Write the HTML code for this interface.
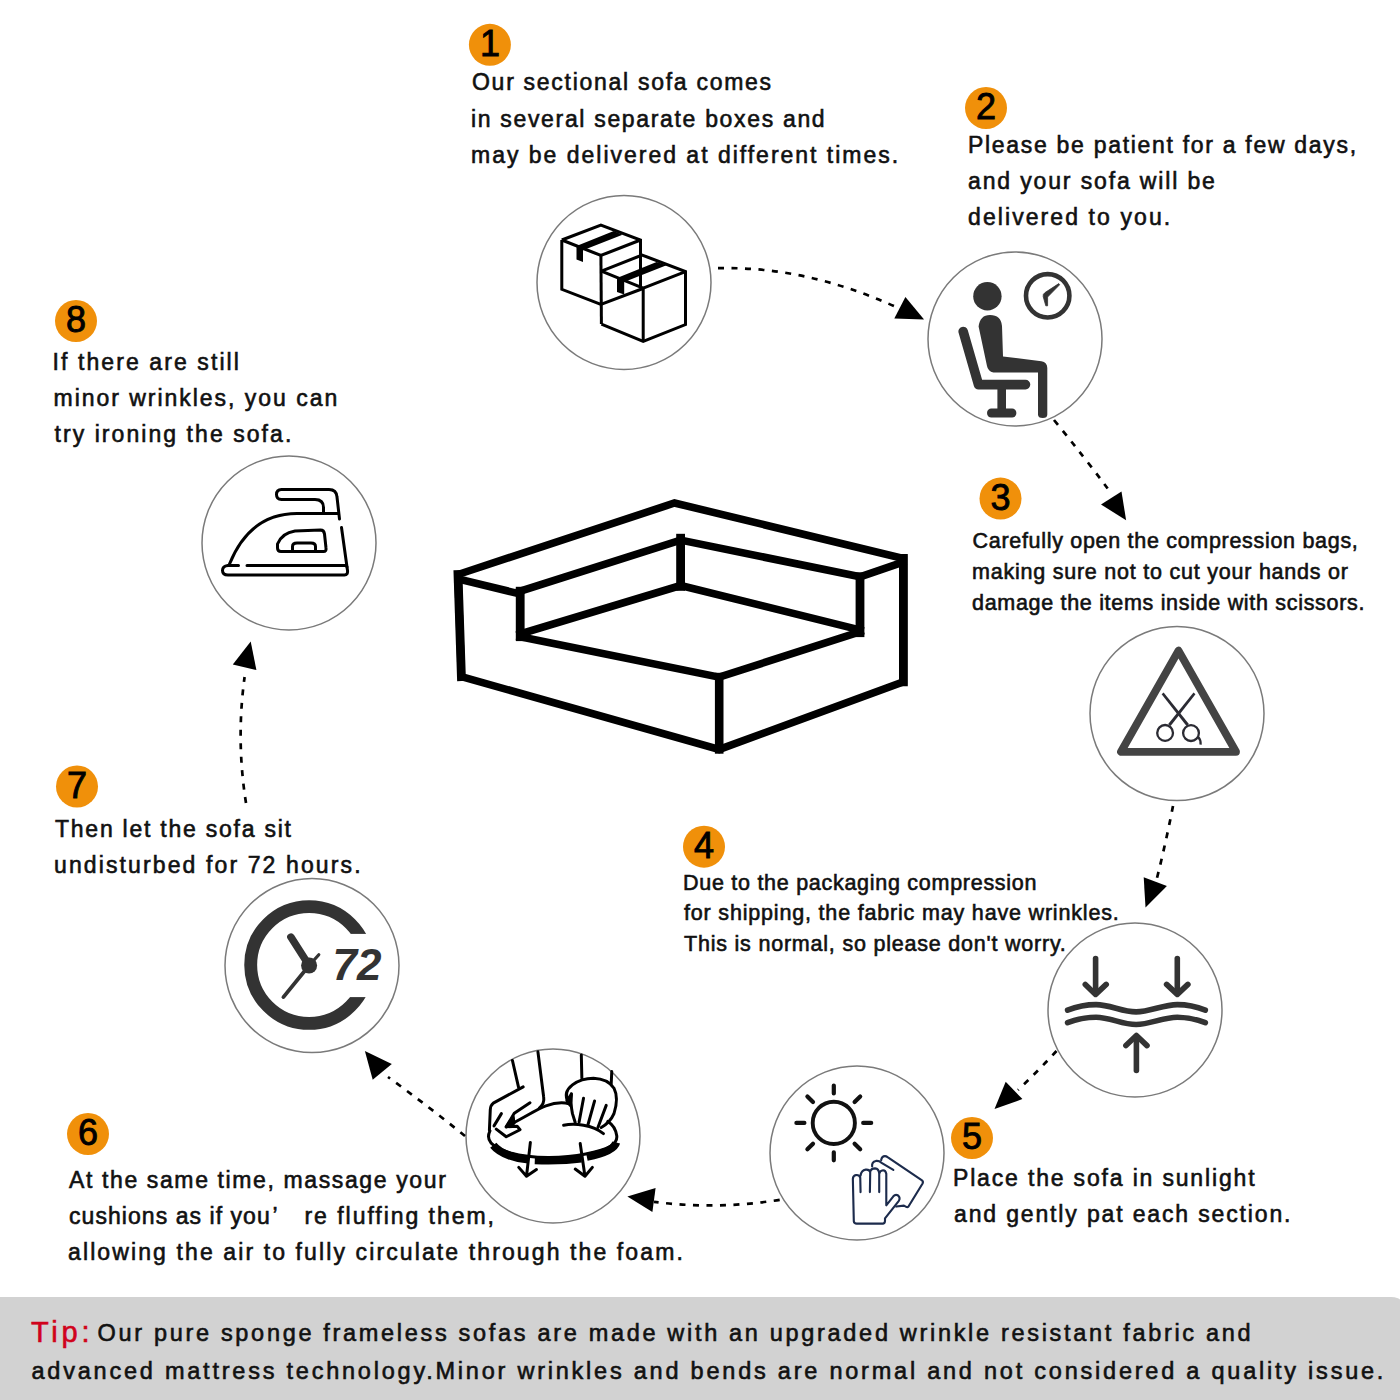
<!DOCTYPE html>
<html><head><meta charset="utf-8"><style>
html,body{margin:0;padding:0;background:#fff;}
body{width:1400px;height:1400px;position:relative;overflow:hidden;font-family:"Liberation Sans",sans-serif;color:#111;}
.t{position:absolute;white-space:nowrap;line-height:1;-webkit-text-stroke:0.6px currentColor;}
.n{position:absolute;width:40px;height:40px;line-height:40px;text-align:center;font-size:36px;color:#000;-webkit-text-stroke:0.9px #000;}
svg{position:absolute;left:0;top:0;}
.band{position:absolute;left:0;top:1296.6px;width:1409px;height:110px;background:#d2d2d2;border-top-right-radius:18px;}
</style></head><body>
<div class="band"></div>
<svg width="1400" height="1400" viewBox="0 0 1400 1400">
<circle cx="624" cy="282.5" r="87" fill="none" stroke="#7a7a7a" stroke-width="1.5"/>
<circle cx="1015" cy="339" r="87" fill="none" stroke="#7a7a7a" stroke-width="1.5"/>
<circle cx="1177" cy="713.6" r="87" fill="none" stroke="#7a7a7a" stroke-width="1.5"/>
<circle cx="1135" cy="1010" r="87" fill="none" stroke="#7a7a7a" stroke-width="1.5"/>
<circle cx="857" cy="1153" r="87" fill="none" stroke="#7a7a7a" stroke-width="1.5"/>
<circle cx="553" cy="1136" r="87" fill="none" stroke="#7a7a7a" stroke-width="1.5"/>
<circle cx="312" cy="965.6" r="87" fill="none" stroke="#7a7a7a" stroke-width="1.5"/>
<circle cx="289" cy="543" r="87" fill="none" stroke="#7a7a7a" stroke-width="1.5"/>
<circle cx="489.9" cy="44.8" r="21" fill="#f0900a"/>
<circle cx="986" cy="108" r="21" fill="#f0900a"/>
<circle cx="1000.5" cy="498.6" r="21" fill="#f0900a"/>
<circle cx="704" cy="846.7" r="21" fill="#f0900a"/>
<circle cx="972" cy="1138" r="21" fill="#f0900a"/>
<circle cx="88" cy="1134" r="21" fill="#f0900a"/>
<circle cx="77" cy="786.5" r="21" fill="#f0900a"/>
<circle cx="76" cy="321" r="21" fill="#f0900a"/>
<g fill="none" stroke="#000" stroke-width="2.7" stroke-dasharray="6 7.5">
<path d="M718,268.2 Q806,266 896,307"/>
<path d="M1054,420 Q1085,458 1108,489"/>
<path d="M1173,806 Q1166,842 1157,878"/>
<path d="M1056.5,1051 Q1038,1071 1018,1090"/>
<path d="M779.7,1199.8 Q716,1210 654,1201.8"/>
<path d="M465,1136 Q428,1106 388,1077"/>
<path d="M246,803 Q236,740 244.6,677"/>
</g>
<g fill="#000">
<polygon points="905.4,297.1 894.3,318.6 924.1,319.5"/>
<polygon points="1121.5,491.5 1101,504.5 1126.1,520.2"/>
<polygon points="1143.7,877.3 1166.9,886.1 1145.5,907.5"/>
<polygon points="1005.7,1081.8 1022.4,1099.1 994.5,1109.1"/>
<polygon points="627.4,1196.6 655.6,1188 652.4,1212"/>
<polygon points="364.9,1050.9 391.8,1063.9 372.7,1079.7"/>
<polygon points="250.7,641.5 232.8,664.6 256.4,670"/>
</g>

<g fill="none" stroke="#000" stroke-width="7.6" stroke-linejoin="miter" stroke-linecap="square">
<path d="M458,574.5 L674.5,503 L903.4,558.5 L903.4,681.9 L719.2,749.4 L461.4,676.6 Z"/>
<path d="M903.4,558.5 L903.4,681.9" stroke-width="8.8"/>
<path d="M458,574.5 L461.4,676.6" stroke-width="8.8"/>
<path d="M719.2,677.1 L719.2,749.4" stroke-width="8.6"/>
<path d="M520.2,636.7 L719.2,677.1 L860,631.8"/>
<path d="M520.2,634 L680.6,585.5 L860,630"/>
<path d="M680.6,538.2 L680.6,586.4" stroke-width="8.8"/>
<path d="M520.2,591.2 L680.6,540.1 L860,576.8"/>
<path d="M520.2,591.2 L520.2,636.7" stroke-width="8.8"/>
<path d="M860,576.8 L860,632.7" stroke-width="8.8"/>
<path d="M462.3,580 L520.2,594"/>
<path d="M860,576.8 L902.4,562.3"/>
</g>

<!-- 1 boxes -->
<g fill="none" stroke="#000" stroke-width="3" stroke-linejoin="miter" stroke-linecap="butt">
<path d="M561.8,240 L600.9,225 L640.5,240 L640.5,288"/>
<path d="M561.8,240 L561.8,289.3 L600.9,304.3 L643,288.5"/>
<path d="M561.8,240 L600.9,255.5 L640.5,240"/>
<path d="M600.9,255.5 L601.4,324.1"/>
<path d="M601.4,271.1 L642.1,255 L685.5,271.6 L685.5,324.6 L643.2,341.3 L601.4,324.1"/>
<path d="M601.4,271.1 L643.2,288.2 L685.5,271.6"/>
<path d="M643.2,288.2 L643.2,341.3"/>
</g>
<g fill="#000">
<polygon points="576.5,246 613.8,231 622.5,234.8 583,250.2 583,262 576.5,259.5"/>
<polygon points="617,278 656.6,262 666.5,265.2 624.2,282 624.2,294.5 617,292"/>
</g>
<!-- 2 person -->
<g fill="#333">
<circle cx="987.4" cy="296.2" r="14.2"/>
<path d="M978.6,326.5 Q980,315 990,315 Q1001,315 1002,326 L1003,356.4 L1041.4,361.2 Q1047.3,362.4 1047.3,368 L1047.3,414.5 Q1047.3,418 1042.8,418 Q1038,418 1038,414.5 L1038,372.4 L993.4,372.4 Q988,371.5 987,366 Z"/>
<rect x="997.4" y="388" width="8.6" height="22" />
<rect x="987.1" y="408.4" width="29.2" height="9.2" rx="4.2"/>
</g>
<path d="M963.2,331.5 L978.5,384.6 L1025.5,384.6" fill="none" stroke="#333" stroke-width="9.6" stroke-linecap="round" stroke-linejoin="round"/>
<circle cx="1047.7" cy="295.8" r="21.7" fill="none" stroke="#333" stroke-width="4.6"/>
<path d="M1058.8,283.6 L1059.6,284.8 L1047.6,297 L1047.6,305.8 L1045.8,305.8 L1043.2,296.6 Q1042.6,294.2 1045,292.6 Z" fill="#333" stroke="#333" stroke-width="0.8" stroke-linejoin="round"/>
<!-- 3 triangle -->
<path d="M1178.5,650.6 L1121,751.8 L1236,751.8 Z" fill="none" stroke="#444" stroke-width="7.8" stroke-linejoin="round"/>
<g fill="none" stroke="#2b2b33" stroke-width="2.3">
<polygon points="1161.65,694.19 1163.6,692.6 1188.87,724.06 1186.53,725.94" fill="#2b2b33" stroke="none"/>
<polygon points="1195.45,694.19 1193.5,692.6 1168.23,724.06 1170.57,725.94" fill="#2b2b33" stroke="none"/>
<circle cx="1165.1" cy="732.9" r="7.9"/>
<circle cx="1191" cy="733.1" r="7.9"/>
<path d="M1198.2,737 Q1201,740 1200.6,744.6"/>
</g>
<!-- 4 waves -->
<g fill="none" stroke="#333" stroke-width="5.6" stroke-linecap="round" stroke-linejoin="round">
<path d="M1095.6,958.5 L1095.6,993"/>
<path d="M1085.3,984.4 L1095.6,994.4 L1106.2,984.4"/>
<path d="M1177.3,958.5 L1177.3,993"/>
<path d="M1166.6,984.4 L1177.3,994.4 L1187.9,984.4"/>
<path d="M1136.4,1037 L1136.4,1070.5"/>
<path d="M1125.9,1045.6 L1136.4,1035.5 L1147,1045.6"/>
<path d="M1067.6,1010.1 C1078,1006 1087,1004.6 1096.1,1004.6 C1110,1004.6 1122,1011.9 1136.1,1011.9 C1150,1011.9 1163,1004.6 1177.3,1004.6 C1186,1004.6 1195,1006 1205.3,1010.1"/>
<path d="M1067.6,1022.7 C1078,1018.6 1087,1017.2 1096.1,1017.2 C1110,1017.2 1122,1024.5 1136.1,1024.5 C1150,1024.5 1163,1017.2 1177.3,1017.2 C1186,1017.2 1195,1018.6 1205.3,1022.7"/>
</g>
<!-- 5 sun + glove -->
<g fill="none" stroke="#111" stroke-width="4.2" stroke-linecap="round">
<circle cx="833.8" cy="1122.9" r="21.1" stroke-width="3.9"/>
<path d="M833.8,1085.5 L833.8,1093.5 M833.8,1152.3 L833.8,1160.3 M796.4,1122.9 L804.4,1122.9 M863.2,1122.9 L871.2,1122.9 M807.4,1096.5 L813,1102.1 M854.6,1143.7 L860.2,1149.3 M807.4,1149.3 L813,1143.7 M854.6,1102.1 L860.2,1096.5"/>
</g>
<g transform="translate(840,1150) scale(0.064285)" fill="none" stroke="#1c2b4c" stroke-width="33" stroke-linecap="round" stroke-linejoin="round">
<path d="M320,655 L315,430 Q300,385 250,390 Q200,400 200,450 L215,1110 Q220,1145 260,1145 L670,1145 Q700,1140 700,1100 L700,1065 L915,790 Q945,740 900,705 Q860,685 830,720 L720,860 L720,370 Q710,315 670,315 Q620,320 610,370 L610,655 M610,370 Q605,290 545,285 Q480,285 470,340 L465,655 M470,345 Q460,300 400,305 Q330,315 320,400"/>
<path d="M500,255 Q490,185 560,170 Q610,165 640,195 L830,310"/>
<path d="M640,160 Q650,95 700,95 Q720,95 740,110 L1270,470 Q1300,490 1285,520 L1065,880 Q1050,895 1030,885 L995,865 L875,880"/>
</g>
<!-- 7 clock 72 -->
<circle cx="309.1" cy="965" r="58.4" fill="none" stroke="#333" stroke-width="12.9"/>
<rect x="338" y="933.9" width="40" height="63.2" fill="#fff"/>
<g stroke="#333" stroke-linecap="round" fill="none">
<path d="M309.1,965.5 L290.9,937.1" stroke-width="7.5"/>
<path d="M309.1,965.5 L283.4,997.1" stroke-width="3.8"/>
<path d="M309.1,965.5 L318.8,954.8" stroke-width="3.2"/>
</g>
<circle cx="309.1" cy="965.5" r="8" fill="#333"/>
<text x="332.5" y="980" font-family="Liberation Sans" font-weight="bold" font-style="italic" font-size="44" fill="#333">72</text>
<!-- 8 iron -->
<g fill="none" stroke="#000" stroke-width="3" stroke-linecap="round" stroke-linejoin="round">
<path d="M323.5,512 L323.5,507.5 Q323.5,499.5 315,499.5 L281.5,499.5 Q276.5,499.5 276.5,494.5 Q276.5,489.5 281.5,489.5 L329,489.5 Q336.5,489.5 337,497 L339.5,519"/>
<path d="M338,513.5 L297,513.5 Q250,513.5 229.5,564"/>
<path d="M341.5,527.5 L347,567"/>
<path d="M228,565.5 L238.5,565.5 M247,565.5 L346,565.5"/>
<path d="M228,565.5 Q222.5,566 222.5,570.5 Q222.5,575 228,575 L344.5,575 Q348,575 347.5,570.5 L347,567"/>
<path d="M277.5,548 Q277.5,551.5 281,551.5 L323.5,551.5 Q326.5,551.5 326,548 L324.5,534 Q324,530 320.5,530 L295,531 Q282,533 277.5,544 Z"/>
<path d="M292.5,551 L292.5,546.5 Q292.5,543 297,543 L311,543 Q315.5,543 315.5,546.5 L315.5,551"/>
</g>

<!-- 6 hands cushion -->
<g transform="translate(475,1045) scale(0.11074)" fill="none" stroke="#000" stroke-width="27" stroke-linecap="round" stroke-linejoin="round">
<!-- cushion outline -->
<path d="M135,775 C95,860 140,915 320,975 C520,1030 800,1025 1000,985 C1200,945 1290,900 1280,820 C1272,760 1240,715 1200,690"/>
<!-- thick band -->
<path d="M165,905 C230,985 380,1030 480,1035 M540,1040 C700,1045 850,1040 960,1025 M1010,1010 C1160,980 1260,940 1275,880" stroke-width="72" stroke-linecap="butt"/>
<!-- arrows -->
<path d="M500,880 L465,1185 M395,1105 L465,1185 L555,1125"/>
<path d="M950,890 L993,1185 M905,1120 L993,1185 L1060,1105"/>
<!-- cushion top line -->
<path d="M345,705 C470,640 560,580 640,550 C720,520 790,515 850,530"/>
<path d="M800,725 C900,705 1060,720 1160,800"/>
<!-- left hand -->
<path d="M338,140 L393,380"/>
<path d="M435,378 L165,525 Q140,545 138,585 L130,770"/>
<path d="M568,60 L620,470 Q630,530 580,570"/>
<path d="M496.6,521.2 L354.4,617 L281.9,739 L380.5,733 L406.7,765 L281.9,828.8 L191.9,759.2"/>
<path d="M238.3,619.9 L171.6,730.1"/>
<path d="M281.9,739 L345.7,648.9 L351.5,707 Z" fill="#000"/>
<!-- right hand -->
<path d="M960,90 L965,300"/>
<path d="M1235,240 L1230,350"/>
<path d="M845,520 Q790,430 880,360 Q960,300 1070,300 Q1200,305 1255,390 Q1300,480 1255,620 Q1220,700 1140,745"/>
<path d="M870,440 Q860,520 880,620 L905,700"/>
<path d="M980,480 L940,695"/>
<path d="M1080,505 L1020,720"/>
<path d="M1185,545 L1110,745"/>
<path d="M830,500 L870,445 L860,545 Z" fill="#000"/>
</g>

</svg>
<div class="n" style="left:469.9px;top:24.2px">1</div>
<div class="n" style="left:966.0px;top:87.4px">2</div>
<div class="n" style="left:980.5px;top:478.0px">3</div>
<div class="n" style="left:684.0px;top:826.1px">4</div>
<div class="n" style="left:952.0px;top:1117.4px">5</div>
<div class="n" style="left:68.0px;top:1113.4px">6</div>
<div class="n" style="left:57.0px;top:765.9px">7</div>
<div class="n" style="left:56.0px;top:300.4px">8</div>
<div class="t" style="left:472.0px;top:71.43px;font-size:23px;letter-spacing:1.722px">Our sectional sofa comes</div>
<div class="t" style="left:471.0px;top:108.03px;font-size:23px;letter-spacing:1.671px">in several separate boxes and</div>
<div class="t" style="left:471.0px;top:144.23px;font-size:23px;letter-spacing:1.989px">may be delivered at different times.</div>
<div class="t" style="left:968.0px;top:133.73px;font-size:23px;letter-spacing:1.700px">Please be patient for a few days,</div>
<div class="t" style="left:968.0px;top:169.93px;font-size:23px;letter-spacing:1.860px">and your sofa will be</div>
<div class="t" style="left:968.0px;top:206.23px;font-size:23px;letter-spacing:2.087px">delivered to you.</div>
<div class="t" style="left:972.5px;top:531.00px;font-size:21.5px;letter-spacing:0.697px">Carefully open the compression bags,</div>
<div class="t" style="left:972.0px;top:562.00px;font-size:21.5px;letter-spacing:0.771px">making sure not to cut your hands or</div>
<div class="t" style="left:972.0px;top:592.50px;font-size:21.5px;letter-spacing:0.692px">damage the items inside with scissors.</div>
<div class="t" style="left:683.0px;top:873.00px;font-size:21.5px;letter-spacing:0.723px">Due to the packaging compression</div>
<div class="t" style="left:684.0px;top:903.00px;font-size:21.5px;letter-spacing:0.819px">for shipping, the fabric may have wrinkles.</div>
<div class="t" style="left:684.0px;top:933.90px;font-size:21.5px;letter-spacing:0.789px">This is normal, so please don't worry.</div>
<div class="t" style="left:953.0px;top:1166.53px;font-size:23px;letter-spacing:1.832px">Place the sofa in sunlight</div>
<div class="t" style="left:954.0px;top:1202.73px;font-size:23px;letter-spacing:1.852px">and gently pat each section.</div>
<div class="t" style="left:69.0px;top:1168.73px;font-size:23px;letter-spacing:1.621px">At the same time, massage your</div>
<div class="t" style="left:69.0px;top:1205.03px;font-size:23px;letter-spacing:1.053px">cushions as if you</div>
<div class="t" style="left:272.5px;top:1205.03px;font-size:23px;letter-spacing:0.000px">’</div>
<div class="t" style="left:304.5px;top:1205.03px;font-size:23px;letter-spacing:1.962px">re fluffing them,</div>
<div class="t" style="left:68.0px;top:1241.43px;font-size:23px;letter-spacing:2.112px">allowing the air to fully circulate through the foam.</div>
<div class="t" style="left:55.0px;top:817.53px;font-size:23px;letter-spacing:1.760px">Then let the sofa sit</div>
<div class="t" style="left:54.0px;top:853.53px;font-size:23px;letter-spacing:2.117px">undisturbed for 72 hours.</div>
<div class="t" style="left:52.5px;top:350.73px;font-size:23px;letter-spacing:2.094px">If there are still</div>
<div class="t" style="left:53.5px;top:386.53px;font-size:23px;letter-spacing:1.973px">minor wrinkles, you can</div>
<div class="t" style="left:54.5px;top:423.43px;font-size:23px;letter-spacing:2.060px">try ironing the sofa.</div>
<div class="t" style="left:31.5px;top:1359.91px;font-size:23.5px;letter-spacing:2.774px">advanced mattress technology.Minor wrinkles and bends are normal and not considered a quality issue.</div>
<div class="t" style="left:31px;top:1317.75px;font-size:29px;letter-spacing:3.733px;color:#d0021b">Tip:</div>
<div class="t" style="left:97.5px;top:1322.41px;font-size:23.5px;letter-spacing:2.685px">Our pure sponge frameless sofas are made with an upgraded wrinkle resistant fabric and</div>

</body></html>
